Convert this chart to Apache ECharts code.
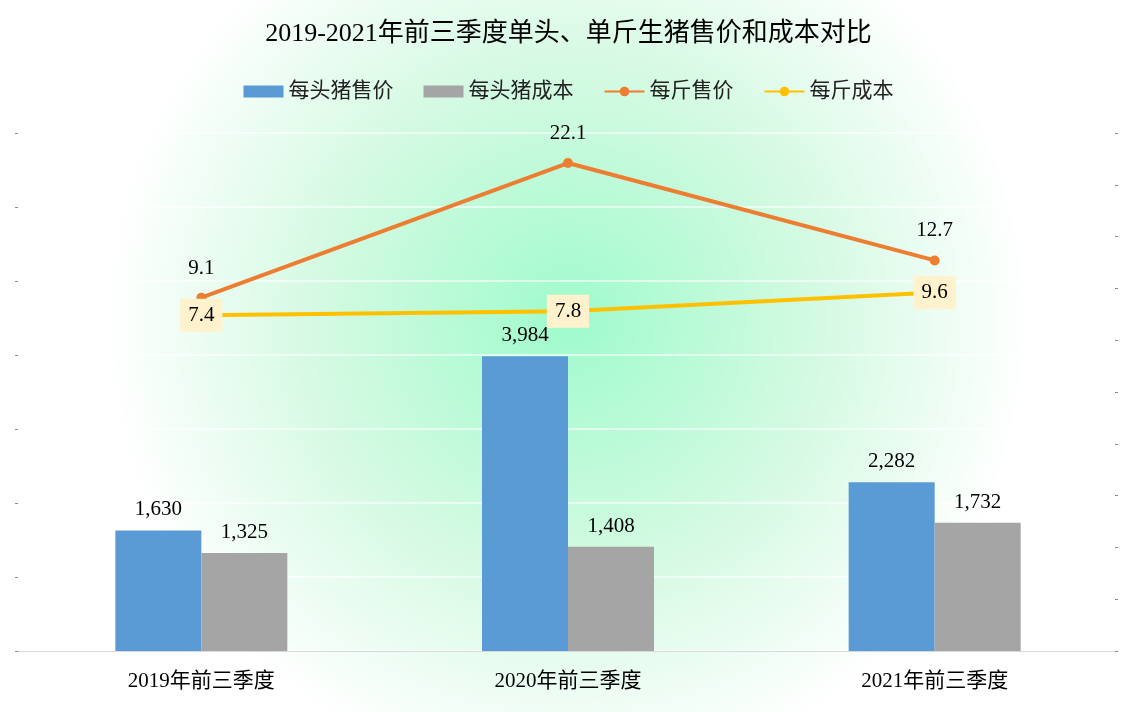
<!DOCTYPE html><html><head><meta charset="utf-8"><script src="https://cdn.jsdelivr.net/npm/echarts@6/dist/echarts.min.js"></script>
<style>body{margin:0}#c{width:1137px;height:712px}</style></head><body><div id="c"></div><script>
const categories=['2019年前三季度','2020年前三季度','2021年前三季度'];
const headPrice=[1630,3984,2282];
const headCost=[1325,1408,1732];
const jinPrice=[9.1,22.1,12.7];
const jinCost=[7.4,7.8,9.6];
const ff='"Liberation Serif","Noto Sans CJK SC",serif';
const c=echarts.init(document.getElementById('c'));
c.setOption({
backgroundColor:{type:'radial',x:0.5,y:0.45,r:0.65,colorStops:[{offset:0,color:'#9ffbcb'},{offset:0.55,color:'#d5fae3'},{offset:1,color:'#ffffff'}]},
textStyle:{fontFamily:ff},
title:{text:'2019-2021年前三季度单头、单斤生猪售价和成本对比',left:'center',top:16,textStyle:{fontFamily:ff,fontSize:26,fontWeight:'normal',color:'#000'}},
legend:{top:76,left:'center',itemGap:30,itemWidth:40,itemHeight:12,textStyle:{fontFamily:ff,fontSize:21,color:'#222'},data:[{name:'每头猪售价',icon:'rect'},{name:'每头猪成本',icon:'rect'},'每斤售价','每斤成本']},
grid:{left:18,right:19,top:133,bottom:61},
xAxis:{type:'category',data:categories,axisTick:{show:false},axisLine:{lineStyle:{color:'#d9d9d9'}},axisLabel:{fontFamily:ff,fontSize:21,color:'#000',margin:20}},
yAxis:[{type:'value',min:0,max:7000,interval:1000,axisLabel:{show:false},axisTick:{show:true,length:3,lineStyle:{color:'#888'}},axisLine:{show:false},splitLine:{lineStyle:{color:'rgba(255,255,255,0.8)',width:1.5}}},
{type:'value',min:-25,max:25,interval:5,axisLabel:{show:false},axisTick:{show:true,length:3,inside:true,lineStyle:{color:'#888'}},axisLine:{show:false},splitLine:{show:false}}],
series:[
{name:'每头猪售价',type:'bar',data:headPrice,barWidth:86,barGap:'0%',itemStyle:{color:'#5b9bd5'},label:{show:true,position:'top',fontFamily:ff,fontSize:21,color:'#000',distance:10,formatter:p=>p.value.toLocaleString('en-US')}},
{name:'每头猪成本',type:'bar',data:headCost,barWidth:86,itemStyle:{color:'#a5a5a5'},label:{show:true,position:'top',fontFamily:ff,fontSize:21,color:'#000',distance:10,formatter:p=>p.value.toLocaleString('en-US')}},
{name:'每斤售价',type:'line',yAxisIndex:1,data:jinPrice,symbol:'circle',symbolSize:10,lineStyle:{width:4,color:'#ed7d31'},itemStyle:{color:'#ed7d31'},label:{show:true,position:'top',distance:14,fontFamily:ff,fontSize:21,color:'#000'}},
{name:'每斤成本',type:'line',yAxisIndex:1,data:jinCost,symbol:'circle',symbolSize:10,lineStyle:{width:4,color:'#ffc000'},itemStyle:{color:'#ffc000'},label:{show:true,position:'inside',fontFamily:ff,fontSize:21,color:'#000',backgroundColor:'#fff2cc',padding:[6,8]}}
]});
</script></body></html>
